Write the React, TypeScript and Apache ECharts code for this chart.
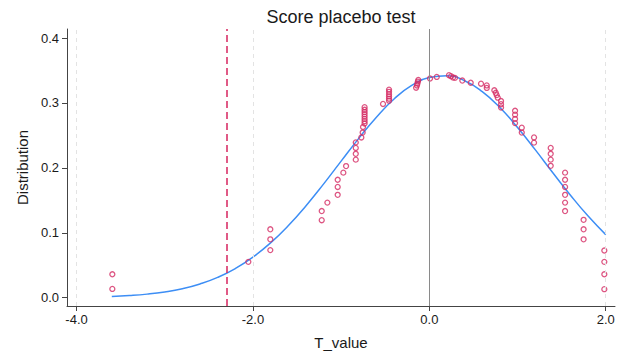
import { useEffect, useRef } from "react";
import * as echarts from "echarts";

// Placebo t values and their density heights
const scatterT = [
  -3.594, -3.594, -2.052, -1.803, -1.803, -1.803, -1.22, -1.22, -1.156,
  -1.039, -1.039, -1.039, -0.975, -0.944, -0.834, -0.834, -0.834, -0.834,
  -0.771, -0.756, -0.752, -0.734, -0.734, -0.734, -0.734, -0.734, -0.734,
  -0.734, -0.734, -0.525, -0.457, -0.457, -0.457, -0.457, -0.457, -0.457,
  -0.15, -0.14, -0.135, -0.13, -0.125, 0.008, 0.084, 0.223, 0.246, 0.269,
  0.291, 0.374, 0.469, 0.586, 0.651, 0.651, 0.737, 0.753, 0.764, 0.776,
  0.813, 0.813, 0.813, 0.972, 0.972, 0.972, 0.972, 1.048, 1.048, 1.187,
  1.187, 1.376, 1.376, 1.376, 1.376, 1.539, 1.539, 1.539, 1.539, 1.539,
  1.539, 1.749, 1.749, 1.749, 1.984, 1.984, 1.984, 1.984,
];
const scatterDensity = [
  0.0361, 0.0135, 0.0552, 0.1054, 0.0899, 0.0733, 0.1335, 0.1194, 0.1465,
  0.1817, 0.1706, 0.1585, 0.1927, 0.2028, 0.2127, 0.2217, 0.2308, 0.2393,
  0.2469, 0.2544, 0.263, 0.2684, 0.272, 0.2755, 0.279, 0.2826, 0.286,
  0.2895, 0.2935, 0.2985, 0.3036, 0.3066, 0.3101, 0.3136, 0.3172, 0.3206,
  0.3235, 0.327, 0.33, 0.333, 0.3355, 0.3377, 0.3402, 0.3428, 0.3413, 0.3392,
  0.3387, 0.3346, 0.3312, 0.3297, 0.3271, 0.3232, 0.3196, 0.3157, 0.3121, 0.3082,
  0.303, 0.2981, 0.2931, 0.288, 0.282, 0.2755, 0.269, 0.2619, 0.2544, 0.2469,
  0.2389, 0.2308, 0.2217, 0.2127, 0.2032, 0.1927, 0.1817, 0.1706, 0.1585, 0.1465,
  0.1335, 0.12, 0.1054, 0.0899, 0.0727, 0.0552, 0.0361, 0.0131,
];

// Density curve
const curveT = [
  -3.6, -3.4, -3.2, -3.0, -2.8, -2.6, -2.4, -2.2, -2.0, -1.8, -1.6, -1.4, -1.2,
  -1.0, -0.8, -0.6, -0.4, -0.2, 0.0, 0.2, 0.4, 0.6, 0.8, 1.0, 1.2, 1.4, 1.6, 1.8, 2.0,
];
const curveDensity = [
  0.0019, 0.0033, 0.0055, 0.0089, 0.0139, 0.0212, 0.0313, 0.0449, 0.0625,
  0.0845, 0.1109, 0.1414, 0.175, 0.2104, 0.2455, 0.2782, 0.3061, 0.3271,
  0.3393, 0.3418, 0.3343, 0.3175, 0.2929, 0.2623, 0.2281, 0.1926, 0.1579,
  0.1257, 0.0972,
];

const xTicks = [-4, -2, 0, 2];
const yTicks = [0, 0.1, 0.2, 0.3, 0.4];
const gridT = [-4, -2, 2];
const zeroT = [0];
const observedT = [-2.3];

const FONT = "'Liberation Sans', Arial, sans-serif";

export default function App() {
  const ref = useRef<HTMLDivElement>(null);
  useEffect(() => {
    const chart = echarts.init(ref.current!, null, { renderer: "svg", width: 622, height: 355 });
    chart.setOption({
      animation: false,
      backgroundColor: "#fff",
      textStyle: { fontFamily: FONT },
      grid: { left: 67, width: 548, top: 29, height: 283, containLabel: false },
      graphic: [
        {
          type: "text",
          x: 341,
          y: 17,
          style: {
            text: "Score placebo test",
            textAlign: "center",
            textVerticalAlign: "middle",
            fontSize: 18,
            fontFamily: FONT,
            fill: "#1a1a1a",
          },
        },
      ],
      xAxis: {
        type: "value",
        min: -4.108,
        max: 2.105,
        name: "T_value",
        nameLocation: "middle",
        nameGap: 29,
        nameTextStyle: { fontSize: 15, color: "#1a1a1a", fontFamily: FONT },
        axisLine: { show: true, onZero: false, lineStyle: { color: "#444", width: 1 } },
        axisTick: { show: true, customValues: xTicks, length: 5, lineStyle: { color: "#444" } },
        axisLabel: {
          customValues: xTicks,
          formatter: (v: number) => v.toFixed(1),
          fontSize: 13,
          color: "#1a1a1a",
          margin: 7,
          fontFamily: FONT,
        },
        splitLine: { show: false },
      },
      yAxis: {
        type: "value",
        min: -0.0128,
        max: 0.414,
        name: "Distribution",
        nameLocation: "middle",
        nameGap: 32,
        nameTextStyle: { fontSize: 15, color: "#1a1a1a", fontFamily: FONT },
        axisLine: { show: true, onZero: false, lineStyle: { color: "#444", width: 1 } },
        axisTick: { show: true, customValues: yTicks, length: 5, lineStyle: { color: "#444" } },
        axisLabel: {
          customValues: yTicks,
          formatter: (v: number) => v.toFixed(1),
          fontSize: 13,
          color: "#1a1a1a",
          margin: 8,
          fontFamily: FONT,
        },
        splitLine: { show: false },
      },
      series: [
        {
          type: "line",
          data: [],
          z: 1,
          markLine: {
            silent: true,
            symbol: ["none", "none"],
            label: { show: false },
            lineStyle: { type: [4, 4], color: "#e3e3e3", width: 1 },
            data: gridT.map((v) => ({ xAxis: v })),
          },
        },
        {
          type: "line",
          data: curveT.map((t, i) => [t, curveDensity[i]]),
          smooth: true,
          showSymbol: false,
          z: 2,
          lineStyle: { color: "#3d8ef5", width: 1.5 },
        },
        {
          type: "line",
          data: [],
          z: 3,
          markLine: {
            silent: true,
            symbol: ["none", "none"],
            label: { show: false },
            lineStyle: { type: "solid", color: "#8a8a8a", width: 1 },
            data: zeroT.map((v) => ({ xAxis: v })),
          },
        },
        {
          type: "line",
          data: [],
          z: 3,
          markLine: {
            silent: true,
            symbol: ["none", "none"],
            label: { show: false },
            lineStyle: { type: [7, 4], color: "#d6245f", width: 1.5 },
            data: observedT.map((v) => ({ xAxis: v })),
          },
        },
        {
          type: "scatter",
          data: scatterT.map((t, i) => [t, scatterDensity[i]]),
          symbol: "circle",
          symbolSize: 5,
          z: 4,
          itemStyle: { color: "rgba(0,0,0,0)", borderColor: "#d42a63", borderWidth: 1.3 },
        },
      ],
    });
    return () => chart.dispose();
  }, []);
  return (
    <div
      ref={ref}
      style={{ position: "fixed", left: 0, top: 0, width: 622, height: 355, background: "#fff" }}
    />
  );
}
